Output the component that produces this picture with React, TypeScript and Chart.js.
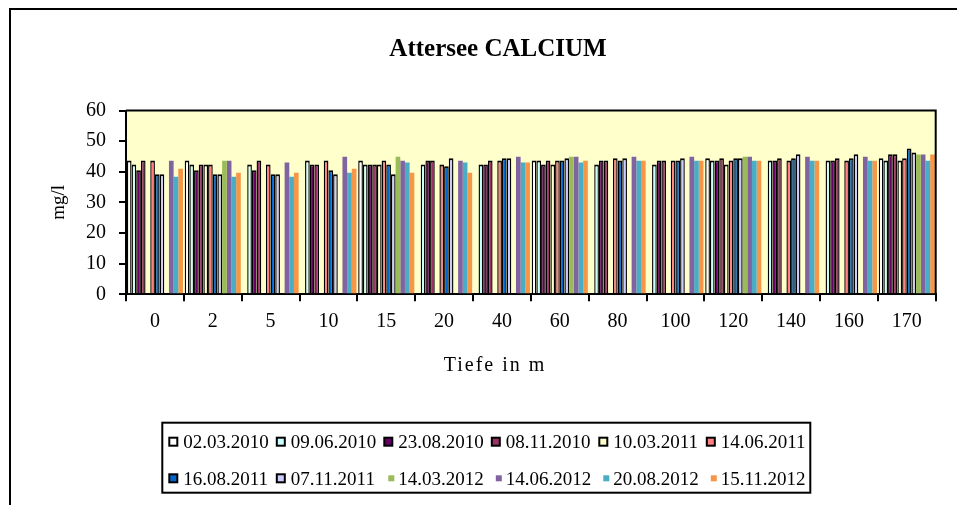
import React, { useEffect, useRef } from "react";
import { Chart, registerables } from "chart.js";

Chart.register(...registerables);

// ---- data (mg/l calcium, Attersee) ----
const depths = ["0", "2", "5", "10", "15", "20", "40", "60", "80", "100", "120", "140", "160", "170"];

const ca_2010_03_02 = [43.7, 43.7, null, null, 43.7, null, null, 43.7, null, null, 44.4, null, null, 44.4];
const ca_2010_06_09 = [42.4, 42.4, 42.4, 43.7, 42.4, 42.4, 42.4, 43.7, 42.4, 42.4, 43.7, 43.7, 43.7, 43.7];
const ca_2010_08_23 = [40.5, 40.5, 40.5, 42.4, 42.4, 43.7, 42.4, 42.4, 43.7, 43.7, 43.7, 43.7, 43.7, 45.7];
const ca_2010_11_08 = [43.7, 42.4, 43.7, 42.4, 42.4, 43.7, 43.7, 43.7, 43.7, 43.7, 44.4, 44.4, 44.4, 45.7];
const ca_2011_03_10 = [null, 42.4, null, null, 42.4, null, null, 42.4, null, null, 42.4, null, null, 43.7];
const ca_2011_06_14 = [43.7, 42.4, 42.4, 43.7, 43.7, 42.4, 43.7, 43.7, 44.4, 43.7, 43.7, 43.7, 43.7, 44.4];
const ca_2011_08_16 = [39.2, 39.2, 39.2, 40.5, 42.4, 41.8, 44.4, 43.7, 43.7, 43.7, 44.4, 44.4, 44.4, 47.6];
const ca_2011_11_07 = [39.2, 39.2, 39.2, 39.2, 39.2, 44.4, 44.4, 44.4, 44.4, 44.4, 44.4, 45.7, 45.7, 46.3];
const ca_2012_03_14 = [null, 43.6, null, null, 44.9, null, null, 44.9, null, null, 44.9, null, null, 45.6];
const ca_2012_06_14 = [43.6, 43.6, 43.0, 44.9, 43.6, 43.6, 44.9, 44.9, 44.9, 44.9, 44.9, 44.9, 44.9, 45.6];
const ca_2012_08_20 = [38.4, 38.4, 38.4, 39.7, 43.0, 43.0, 43.0, 43.0, 43.6, 43.6, 43.6, 43.6, 43.6, 43.6];
const ca_2012_11_15 = [41.0, 39.7, 39.7, 41.0, 39.7, 39.7, 43.0, 43.6, 43.6, 43.6, 43.6, 43.6, 43.6, 45.6];

const seriesLabels = [
  "02.03.2010", "09.06.2010", "23.08.2010", "08.11.2010", "10.03.2011", "14.06.2011",
  "16.08.2011", "07.11.2011", "14.03.2012", "14.06.2012", "20.08.2012", "15.11.2012",
];
const seriesValues = [
  ca_2010_03_02, ca_2010_06_09, ca_2010_08_23, ca_2010_11_08, ca_2011_03_10, ca_2011_06_14,
  ca_2011_08_16, ca_2011_11_07, ca_2012_03_14, ca_2012_06_14, ca_2012_08_20, ca_2012_11_15,
];
const seriesColors = [
  "#FFFFFF", "#CCFFFF", "#660066", "#993366", "#FFFFCC", "#FF8080",
  "#0066CC", "#CCCCFF", "#9BBB59", "#8064A2", "#4BACC6", "#F79646",
];
const seriesOutlined = [true, true, true, true, true, true, true, true, false, false, false, false];

const titleText = "Attersee CALCIUM";
const yTitleText = "mg/l";
const xTitleText = "Tiefe in m";

export default function App() {
  const ref = useRef<HTMLCanvasElement>(null);

  useEffect(() => {
    document.body.style.margin = "0";
    document.body.style.overflow = "hidden";
    const canvas = ref.current;
    if (!canvas) return;
    const FONT = "'Liberation Serif', 'Times New Roman', serif";

    const decor = {
      id: "excelDecor",
      beforeDraw(chart: any) {
        const { ctx, chartArea: a } = chart;
        ctx.save();
        ctx.fillStyle = "#FFFFFF";
        ctx.fillRect(0, 0, chart.width, chart.height);
        ctx.fillStyle = "#FFFFCC";
        ctx.fillRect(a.left, a.top, a.right - a.left, a.bottom - a.top);
        ctx.restore();
      },
      afterDraw(chart: any) {
        const { ctx, chartArea: a } = chart;
        ctx.save();
        ctx.strokeStyle = "#000";
        ctx.lineWidth = 2;
        // plot frame top & right
        ctx.beginPath();
        ctx.moveTo(a.left, a.top);
        ctx.lineTo(a.right, a.top);
        ctx.lineTo(a.right, a.bottom);
        ctx.stroke();
        // outer chart frame
        ctx.beginPath();
        ctx.moveTo(10, chart.height + 5);
        ctx.lineTo(10, 9);
        ctx.lineTo(chart.width + 5, 9);
        ctx.stroke();

        // title
        ctx.fillStyle = "#000";
        ctx.textAlign = "center";
        ctx.textBaseline = "alphabetic";
        ctx.font = `bold 25px ${FONT}`;
        ctx.fillText(titleText, 498, 56);

        // x axis title
        ctx.font = `20px ${FONT}`;
        (ctx as any).letterSpacing = "2px";
        ctx.fillText(xTitleText, 495, 371);
        (ctx as any).letterSpacing = "0px";

        // legend
        ctx.lineWidth = 2;
        ctx.strokeRect(162.3, 422.7, 648, 70);
        const x0 = 168.3;
        const dx = 107.5;
        const rowsY = [441.7, 478.3];
        ctx.font = `19px ${FONT}`;
        ctx.textAlign = "left";
        ctx.textBaseline = "alphabetic";
        chart.data.datasets.forEach((ds: any, i: number) => {
          const col = i % 6;
          const row = Math.floor(i / 6);
          const mx = x0 + col * dx;
          const my = rowsY[row];
          if (seriesOutlined[i]) {
            ctx.fillStyle = "#000";
            ctx.fillRect(mx, my - 5, 10, 10);
            ctx.fillStyle = ds.backgroundColor;
            ctx.fillRect(mx + 2, my - 3, 6, 6);
          } else {
            ctx.fillStyle = ds.backgroundColor;
            ctx.fillRect(mx + 5, my - 3, 6, 6);
          }
          ctx.fillStyle = "#000";
          ctx.fillText(ds.label, mx + 15, my + 6.5);
        });
        ctx.restore();
      },
    };

    const chart = new Chart(canvas, {
      type: "bar",
      data: {
        labels: depths,
        datasets: seriesLabels.map((label, i) => ({
          label,
          data: seriesValues[i],
          backgroundColor: seriesColors[i],
          borderColor: "#000000",
          borderWidth: seriesOutlined[i] ? { top: 2, left: 1.4, right: 1.4, bottom: 0 } : 0,
          borderSkipped: "start",
          categoryPercentage: 0.97,
          barPercentage: 1,
        })),
      },
      options: {
        responsive: false,
        animation: false,
        devicePixelRatio: 1,
        layout: { padding: { top: 110.5, right: 21.3, left: 0, bottom: 170.7 } },
        plugins: {
          legend: { display: false },
          title: { display: false },
          tooltip: { enabled: false },
        },
        scales: {
          x: {
            offset: true,
            z: 1,
            ticks: {
              color: "#000",
              font: { family: FONT, size: 20 },
              padding: 8,
              maxRotation: 0,
              autoSkip: false,
            },
            grid: {
              offset: true,
              drawOnChartArea: false,
              drawTicks: true,
              tickLength: 7,
              color: "#000",
              lineWidth: 2,
            },
            border: { display: true, color: "#000", width: 2 },
            afterFit: (s: any) => {
              s.height = 40;
            },
          },
          y: {
            min: 0,
            max: 60,
            z: 1,
            ticks: {
              stepSize: 10,
              color: "#000",
              font: { family: FONT, size: 20 },
              padding: 13,
            },
            grid: {
              drawOnChartArea: false,
              drawTicks: true,
              tickLength: 7,
              color: "#000",
              lineWidth: 2,
            },
            border: { display: true, color: "#000", width: 2 },
            title: {
              display: true,
              text: yTitleText,
              color: "#000",
              font: { family: FONT, size: 19 },
              padding: { top: 47.6, bottom: 0 },
            },
            afterFit: (s: any) => {
              s.width = 126;
            },
          },
        },
      },
      plugins: [decor],
    } as any);

    return () => chart.destroy();
  }, []);

  return <canvas ref={ref} width={957} height={505} style={{ display: "block" }} />;
}
